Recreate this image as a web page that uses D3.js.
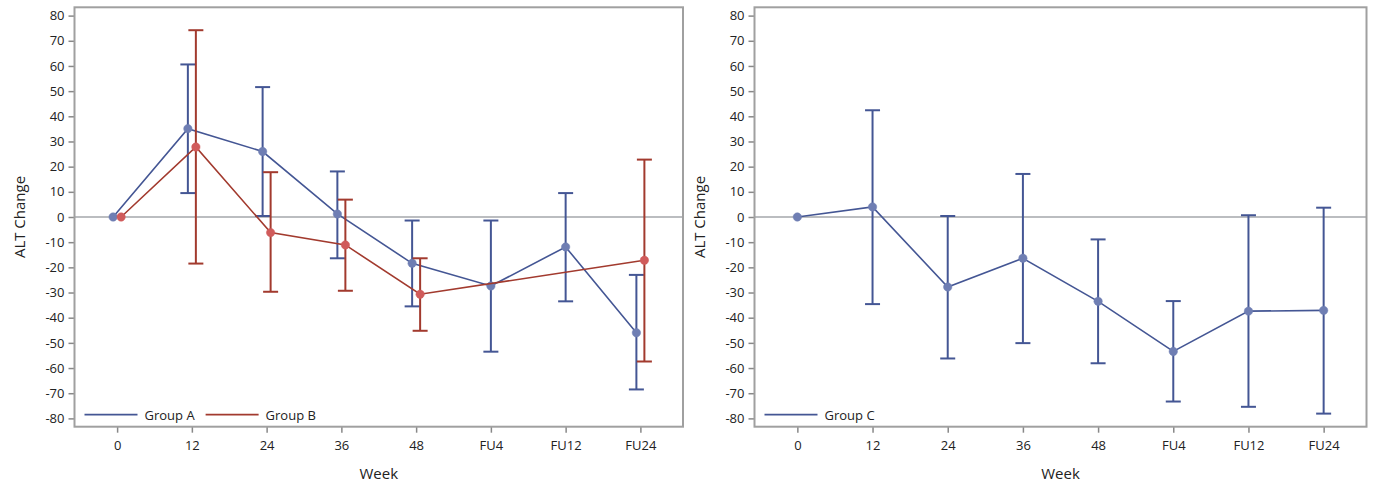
<!DOCTYPE html>
<html>
<head>
<meta charset="utf-8">
<script src="https://cdn.jsdelivr.net/npm/d3@7"></script>
<style>
  html, body { margin: 0; padding: 0; background: #fff; }
  svg { display: block; }
  text { font-family: "Open Sans", "DejaVu Sans", sans-serif; fill: #222; }
</style>
</head>
<body>
<svg id="chart" width="1382" height="485"></svg>
<script>
// ---- data ----
const weeks = ["0", "12", "24", "36", "48", "FU4", "FU12", "FU24"];
const yTicks = [80, 70, 60, 50, 40, 30, 20, 10, 0, -10, -20, -30, -40, -50, -60, -70, -80];

const groupAMean  = [0, 35.1, 26.0, 1.2, -18.4, -27.4, -11.9, -46.0];
const groupALower = [null, 9.5, 0.4, -16.4, -35.5, -53.5, -33.5, -68.5];
const groupAUpper = [null, 60.6, 51.6, 18.1, -1.4, -1.4, 9.5, -23.0];

const groupBMean  = [0, 27.8, -6.2, -11.1, -30.7, null, null, -17.2];
const groupBLower = [null, -18.5, -29.7, -29.3, -45.2, null, null, -57.4];
const groupBUpper = [null, 74.2, 17.8, 6.9, -16.4, null, null, 22.8];

const groupCMean  = [0, 4.0, -27.8, -16.4, -33.5, -53.4, -37.4, -37.1];
const groupCLower = [null, -34.6, -56.2, -50.1, -58.1, -73.3, -75.4, -78.1];
const groupCUpper = [null, 42.4, 0.4, 17.1, -8.9, -33.4, 0.7, 3.7];

const yLabel = "ALT Change";
const xLabel = "Week";

// ---- styles ----
const BLUE_LINE = "#445694", BLUE_FILL = "#6F7EB3";
const RED_LINE = "#A23A2E", RED_FILL = "#D05B5B";
const FRAME = "#a0a0a0";

const svg = d3.select("#chart");

const plotTop = 7.3, plotBottom = 426.7;
const y = d3.scaleLinear().domain([-83.3, 83.3]).range([plotBottom, plotTop]);

function drawPanel(left, right, groups) {
  const g = svg.append("g");
  const x = d3.scalePoint().domain(weeks).range([left, right]).padding(0.57);

  // reference line at 0
  g.append("line")
    .attr("x1", left).attr("x2", right)
    .attr("y1", y(0)).attr("y2", y(0))
    .attr("stroke", "#a4a7ab").attr("stroke-width", 1.6);

  // y axis
  const ya = g.append("g").attr("transform", `translate(${left},0)`)
    .call(d3.axisLeft(y).tickValues(yTicks).tickSize(6).tickPadding(4).tickFormat(d => String(d)));
  ya.select(".domain").remove();
  ya.selectAll(".tick line").attr("stroke", "#888").attr("stroke-width", 1.5);
  ya.selectAll(".tick text").attr("font-size", 13).attr("fill", "#222")
    .attr("font-family", '"Open Sans", sans-serif');

  // x axis
  const xa = g.append("g").attr("transform", `translate(0,${plotBottom})`)
    .call(d3.axisBottom(x).tickSize(6).tickPadding(8));
  xa.select(".domain").remove();
  xa.selectAll(".tick line").attr("stroke", "#888").attr("stroke-width", 1.5);
  xa.selectAll(".tick text").attr("font-size", 13).attr("fill", "#222")
    .attr("font-family", '"Open Sans", sans-serif');

  // axis labels
  g.append("text")
    .attr("transform", `translate(${left - 56},${(plotTop + plotBottom) / 2}) rotate(-90)`)
    .attr("text-anchor", "middle").attr("dominant-baseline", "central")
    .attr("font-size", 15).text(yLabel);
  g.append("text")
    .attr("x", (left + right) / 2).attr("y", 479)
    .attr("text-anchor", "middle").attr("font-size", 15).text(xLabel);

  // series
  const nG = groups.length;
  groups.forEach((grp, gi) => {
    const pts = weeks.map((w, i) => {
      const present = groups.filter(o => o.mean[i] != null).length;
      const off = (present > 1) ? (gi - (nG - 1) / 2) * 8 : 0;
      return { cx: x(w) + off, m: grp.mean[i], lo: grp.lower[i], hi: grp.upper[i] };
    }).filter(p => p.m != null);

    const line = d3.line().x(p => p.cx).y(p => y(p.m));
    g.append("path").datum(pts).attr("d", line)
      .attr("fill", "none").attr("stroke", grp.line).attr("stroke-width", 1.6);

    const eb = pts.filter(p => p.lo != null);
    const eg = g.append("g").attr("stroke", grp.line).attr("stroke-width", 2).attr("fill", "none");
    eg.selectAll("line.v").data(eb).join("line").attr("class", "v")
      .attr("x1", p => p.cx).attr("x2", p => p.cx)
      .attr("y1", p => y(p.lo)).attr("y2", p => y(p.hi));
    eg.selectAll("line.t").data(eb).join("line").attr("class", "t")
      .attr("x1", p => p.cx - 7.5).attr("x2", p => p.cx + 7.5)
      .attr("y1", p => y(p.hi)).attr("y2", p => y(p.hi));
    eg.selectAll("line.b").data(eb).join("line").attr("class", "b")
      .attr("x1", p => p.cx - 7.5).attr("x2", p => p.cx + 7.5)
      .attr("y1", p => y(p.lo)).attr("y2", p => y(p.lo));

    g.selectAll(null).data(pts).join("circle")
      .attr("cx", p => p.cx).attr("cy", p => y(p.m)).attr("r", 4.2)
      .attr("fill", grp.fill).attr("stroke", grp.fill).attr("stroke-width", 0.5);
  });

  // legend
  const ly = y(-78.5);
  let lx = left + 10;
  groups.forEach(grp => {
    g.append("line").attr("x1", lx).attr("x2", lx + 53).attr("y1", ly).attr("y2", ly)
      .attr("stroke", grp.line).attr("stroke-width", 1.8);
    const t = g.append("text").attr("x", lx + 60).attr("y", ly).attr("dominant-baseline", "central")
      .attr("font-size", 13).text(grp.name);
    lx += 60 + t.node().getComputedTextLength() + 11;
  });

  // frame
  g.append("rect").attr("x", left).attr("y", plotTop)
    .attr("width", right - left).attr("height", plotBottom - plotTop)
    .attr("fill", "none").attr("stroke", FRAME).attr("stroke-width", 2);
}

drawPanel(74.5, 683, [
  { name: "Group A", mean: groupAMean, lower: groupALower, upper: groupAUpper, line: BLUE_LINE, fill: BLUE_FILL },
  { name: "Group B", mean: groupBMean, lower: groupBLower, upper: groupBUpper, line: RED_LINE, fill: RED_FILL }
]);
drawPanel(754.5, 1366.5, [
  { name: "Group C", mean: groupCMean, lower: groupCLower, upper: groupCUpper, line: BLUE_LINE, fill: BLUE_FILL }
]);
</script>
</body>
</html>
